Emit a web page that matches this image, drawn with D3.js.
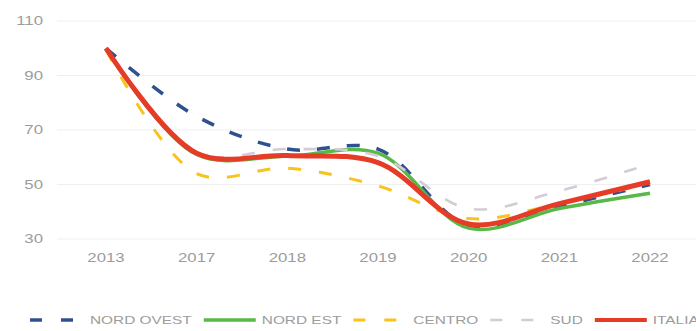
<!DOCTYPE html>
<html>
<head>
<meta charset="utf-8">
<script src="https://cdn.jsdelivr.net/npm/d3@7"></script>
<style>
  html, body { margin: 0; padding: 0; background: #fff; }
  svg { display: block; }
  text { font-family: "Liberation Sans", Arial, sans-serif; fill: #9c9c9c; }
</style>
</head>
<body>
<svg id="chart" width="696" height="331"></svg>
<script>
// Index values (2013 = 100) by macro-area
const years = ["2013", "2017", "2018", "2019", "2020", "2021", "2022"];
const nordOvest = [100, 75, 63, 63, 35, 42, 50];
const nordEst   = [100, 61, 60.5, 61.5, 34, 41.2, 46.8];
const centro    = [99.5, 54, 56, 49.5, 37.5, 43, 50.5];
const sud       = [100, 61.5, 63, 60.5, 41.2, 47.6, 57.6];
const italia    = [100, 61.5, 60.6, 58, 35.5, 43, 51];
const yTicks    = [30, 50, 70, 90, 110];

const seriesNames  = ["NORD OVEST", "NORD EST", "CENTRO", "SUD", "ITALIA"];
const seriesValues = [nordOvest, nordEst, centro, sud, italia];
const seriesColors = ["#2f5190", "#58b947", "#f7c31c", "#d3cbd6", "#e63b26"];
const seriesWidths = [3.5, 3.5, 3, 2.6, 5];
const seriesDashes = ["13,17", null, "13,18", "13,18", null];

const svg = d3.select("#chart");
const stretch = 1.4; // horizontally widened lettering

const x = d3.scalePoint().domain(years).range([106, 650]);
const y = d3.scaleLinear().domain([30, 110]).range([239, 21]);

// horizontal gridlines
svg.append("g").selectAll("line").data(yTicks).join("line")
  .attr("x1", 57).attr("x2", 696)
  .attr("y1", d => y(d)).attr("y2", d => y(d))
  .attr("stroke", "#efefef").attr("stroke-width", 1);

// y tick labels
svg.append("g").selectAll("text").data(yTicks).join("text")
  .attr("transform", d => `translate(43,${y(d)}) scale(${stretch},1)`)
  .attr("text-anchor", "end").attr("dy", "0.35em")
  .attr("font-size", 12)
  .text(d => d);

// x tick labels
svg.append("g").selectAll("text").data(years).join("text")
  .attr("transform", d => `translate(${x(d)},258) scale(${stretch},1)`)
  .attr("text-anchor", "middle").attr("dy", "0.35em")
  .attr("font-size", 12)
  .text(d => d);

// smoothed series lines
const line = d3.line()
  .x((d, i) => x(years[i]))
  .y(d => y(d))
  .curve(d3.curveCatmullRom.alpha(0.5));

svg.append("g").selectAll("path").data(seriesValues).join("path")
  .attr("d", d => line(d))
  .attr("fill", "none")
  .attr("stroke", (d, i) => seriesColors[i])
  .attr("stroke-width", (d, i) => seriesWidths[i])
  .attr("stroke-dasharray", (d, i) => seriesDashes[i])
  .attr("stroke-linecap", "butt")
  .attr("stroke-linejoin", "round");

// legend
const legend = svg.append("g");
let lx = 30;
const ly = 320;
seriesNames.forEach((name, i) => {
  const dashed = seriesDashes[i] !== null;
  const symW = dashed ? 43 : 52;
  legend.append("line")
    .attr("x1", lx).attr("x2", lx + symW)
    .attr("y1", ly).attr("y2", ly)
    .attr("stroke", seriesColors[i])
    .attr("stroke-width", Math.min(seriesWidths[i], 4))
    .attr("stroke-dasharray", dashed ? "12,19" : null);
  const tx = lx + symW + (dashed ? 17 : 6);
  const t = legend.append("text")
    .attr("transform", `translate(${tx},${ly}) scale(${stretch},1)`)
    .attr("dy", "0.35em")
    .attr("font-size", 11)
    .text(name);
  const w = t.node().getComputedTextLength() * stretch;
  lx = tx + w + 12;
});
</script>
</body>
</html>
